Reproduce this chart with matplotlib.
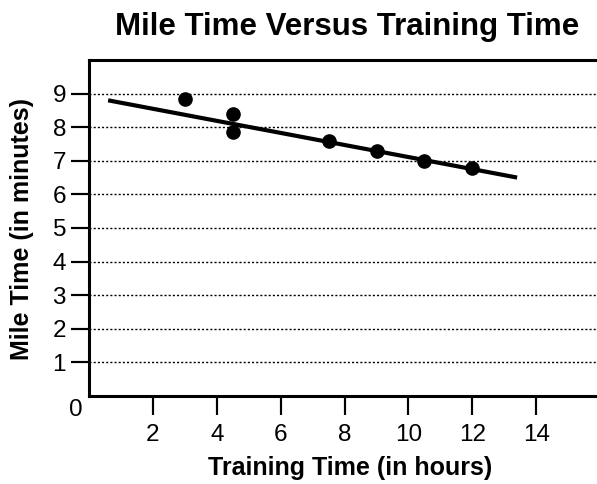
"""Mile time versus training time scatter with trend line."""

import matplotlib

matplotlib.use("Agg")
import matplotlib.pyplot as plt

training_hours = [3, 4.5, 4.5, 7.5, 9, 10.5, 12]
mile_minutes = [8.85, 8.4, 7.85, 7.6, 7.3, 7.0, 6.8]

trend_x = [0.6, 13.4]
trend_y = [8.8, 6.5]

x_ticks = [2, 4, 6, 8, 10, 12, 14]
y_ticks = [1, 2, 3, 4, 5, 6, 7, 8, 9]

plt.rcParams["font.family"] = ["Liberation Sans", "DejaVu Sans"]

fig = plt.figure(figsize=(5.97, 4.84), dpi=100)
ax = fig.add_axes([0.149, 0.182, 0.851, 0.694])

for y in y_ticks:
    ax.axhline(y, color="black", linewidth=1.0, linestyle=(0, (1.5, 1.5)), zorder=1)

ax.plot(trend_x, trend_y, color="black", linewidth=3.0, solid_capstyle="butt", zorder=3)
ax.plot(training_hours, mile_minutes, "o", color="black", markersize=9.5, zorder=4)

ax.set_xlim(0, 15.9)
ax.set_ylim(0, 10)
ax.set_xticks(x_ticks)
ax.set_yticks(y_ticks)

for side in ("left", "bottom", "top"):
    ax.spines[side].set_linewidth(2.2)
ax.spines["right"].set_visible(False)

ax.tick_params(axis="y", direction="out", length=13, width=1.5, color="black",
               pad=3.5, labelsize=17.5)
ax.tick_params(axis="x", direction="out", length=14, width=1.5, color="black",
               pad=6, labelsize=17.5)

# outward tick marks drawn as plain lines too, the tick markers kept vanishing
ax.hlines(y_ticks, -0.0356, 0, transform=ax.get_yaxis_transform(),
          color="black", linewidth=1.5, clip_on=False)
ax.vlines(x_ticks, -0.0579, 0, transform=ax.get_xaxis_transform(),
          color="black", linewidth=1.5, clip_on=False)

# lone origin label sitting off the corner, no tick mark
ax.annotate("0", xy=(0, 0), xytext=(-9.5, -10), textcoords="offset points",
            ha="center", va="center", fontsize=17.5)

fig.text(0.586, 0.033, "Training Time (in hours)", ha="center", va="center",
         fontsize=18, fontweight="bold")
fig.text(0.037, 0.527, "Mile Time (in minutes)", ha="center", va="center",
         rotation=90, fontsize=18, fontweight="bold")
fig.text(0.581, 0.944, "Mile Time Versus Training Time", ha="center", va="center",
         fontsize=22.5, fontweight="bold")

fig.canvas.draw()
fig.savefig("out.png", dpi=100)
